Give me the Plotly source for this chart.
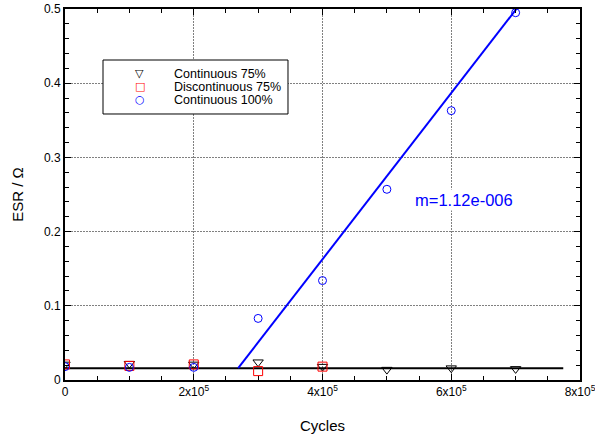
import plotly.graph_objects as go

cycles = [0, 1e5, 2e5, 3e5, 4e5, 5e5, 6e5, 7e5]
cont75 = [0.021, 0.022, 0.021, 0.024, 0.018, 0.014, 0.016, 0.015]
disc_cycles = [0, 1e5, 2e5, 3e5, 4e5]
disc75 = [0.021, 0.019, 0.021, 0.012, 0.018]
cont100 = [0.018, 0.017, 0.017, 0.083, 0.134, 0.257, 0.363, 0.495]

base_x = [0, 7.74e5]
base_y = [0.016, 0.016]
fit_x = [2.69e5, 7.02e5]
slope = 1.12e-6
fit_intercept = -0.2853
fit_y = [slope * v + fit_intercept for v in fit_x]

xtick_vals = [0, 2e5, 4e5, 6e5, 8e5]
xtick_text = ["0", "2x10<sup>5</sup>", "4x10<sup>5</sup>", "6x10<sup>5</sup>", "8x10<sup>5</sup>"]

legend_names = ["Continuous 75%", "Discontinuous 75%", "Continuous 100%"]
legend_glyphs = ["▽", "□", "○"]
legend_colors = ["black", "red", "#0000ff"]

fig = go.Figure()
fig.add_trace(go.Scatter(x=base_x, y=base_y, mode="lines", line=dict(color="black", width=2), showlegend=False))
fig.add_trace(go.Scatter(x=fit_x, y=fit_y, mode="lines", line=dict(color="#0000ff", width=2), showlegend=False))
fig.add_trace(go.Scatter(x=cycles, y=cont75, mode="markers", name=legend_names[0], showlegend=False,
                         marker=dict(symbol="triangle-down-open", color="black", size=9, line=dict(width=1))))
fig.add_trace(go.Scatter(x=disc_cycles, y=disc75, mode="markers", name=legend_names[1], showlegend=False,
                         marker=dict(symbol="square-open", color="red", size=9, line=dict(width=1))))
fig.add_trace(go.Scatter(x=cycles, y=cont100, mode="markers", name=legend_names[2], showlegend=False,
                         marker=dict(symbol="circle-open", color="#0000ff", size=8, line=dict(width=1))))

fig.add_annotation(x=6.2e5, y=0.243, text="m=1.12e-006", showarrow=False, bgcolor="white",
                   font=dict(color="#0000ff", size=16.5, family="Liberation Sans"))

# manual legend box (matches the compact legend of the reference)
fig.add_shape(type="rect", xref="paper", yref="paper", x0=0.0738, x1=0.433, y0=0.717, y1=0.8625,
              line=dict(color="black", width=1), fillcolor="white", layer="above")
leg_y = [0.826, 0.791, 0.756]
for name, glyph, col, yy in zip(legend_names, legend_glyphs, legend_colors, leg_y):
    fig.add_annotation(xref="paper", yref="paper", x=0.1456, y=yy, text=glyph, showarrow=False,
                       font=dict(color=col, size=11, family="DejaVu Sans"), xanchor="center", yanchor="middle")
    fig.add_annotation(xref="paper", yref="paper", x=0.2078, y=yy, text=name, showarrow=False,
                       font=dict(color="black", size=12.5, family="Liberation Sans"), xanchor="left", yanchor="middle")

axis_common = dict(showline=True, linecolor="black", linewidth=2, mirror="allticks",
                   ticks="inside", ticklen=6, tickcolor="black", zeroline=False, automargin=False,
                   showgrid=True, gridcolor="#808080", griddash="2px,1px", gridwidth=1)

fig.update_xaxes(range=[0, 8e5], tickvals=xtick_vals, ticktext=xtick_text, ticklabeloverflow="allow",
                 minor=dict(dtick=5e4, tick0=0, ticks="inside", ticklen=4, tickcolor="black", showgrid=False),
                 title=dict(text="Cycles", font=dict(size=15), standoff=22), **axis_common)
fig.update_yaxes(range=[0, 0.5], dtick=0.1, tick0=0,
                 minor=dict(dtick=0.02, tick0=0, ticks="inside", ticklen=4, tickcolor="black", showgrid=False),
                 title=dict(text="ESR / Ω", font=dict(size=15), standoff=17), **axis_common)

fig.update_layout(
    width=595, height=441,
    margin=dict(l=65, r=15, t=9, b=61),
    plot_bgcolor="white", paper_bgcolor="white",
    font=dict(family="Liberation Sans", size=12, color="black"),
    showlegend=False,
)

fig.write_html("out.html", post_script="document.body.style.margin='0';",
               config={"displayModeBar": False})
